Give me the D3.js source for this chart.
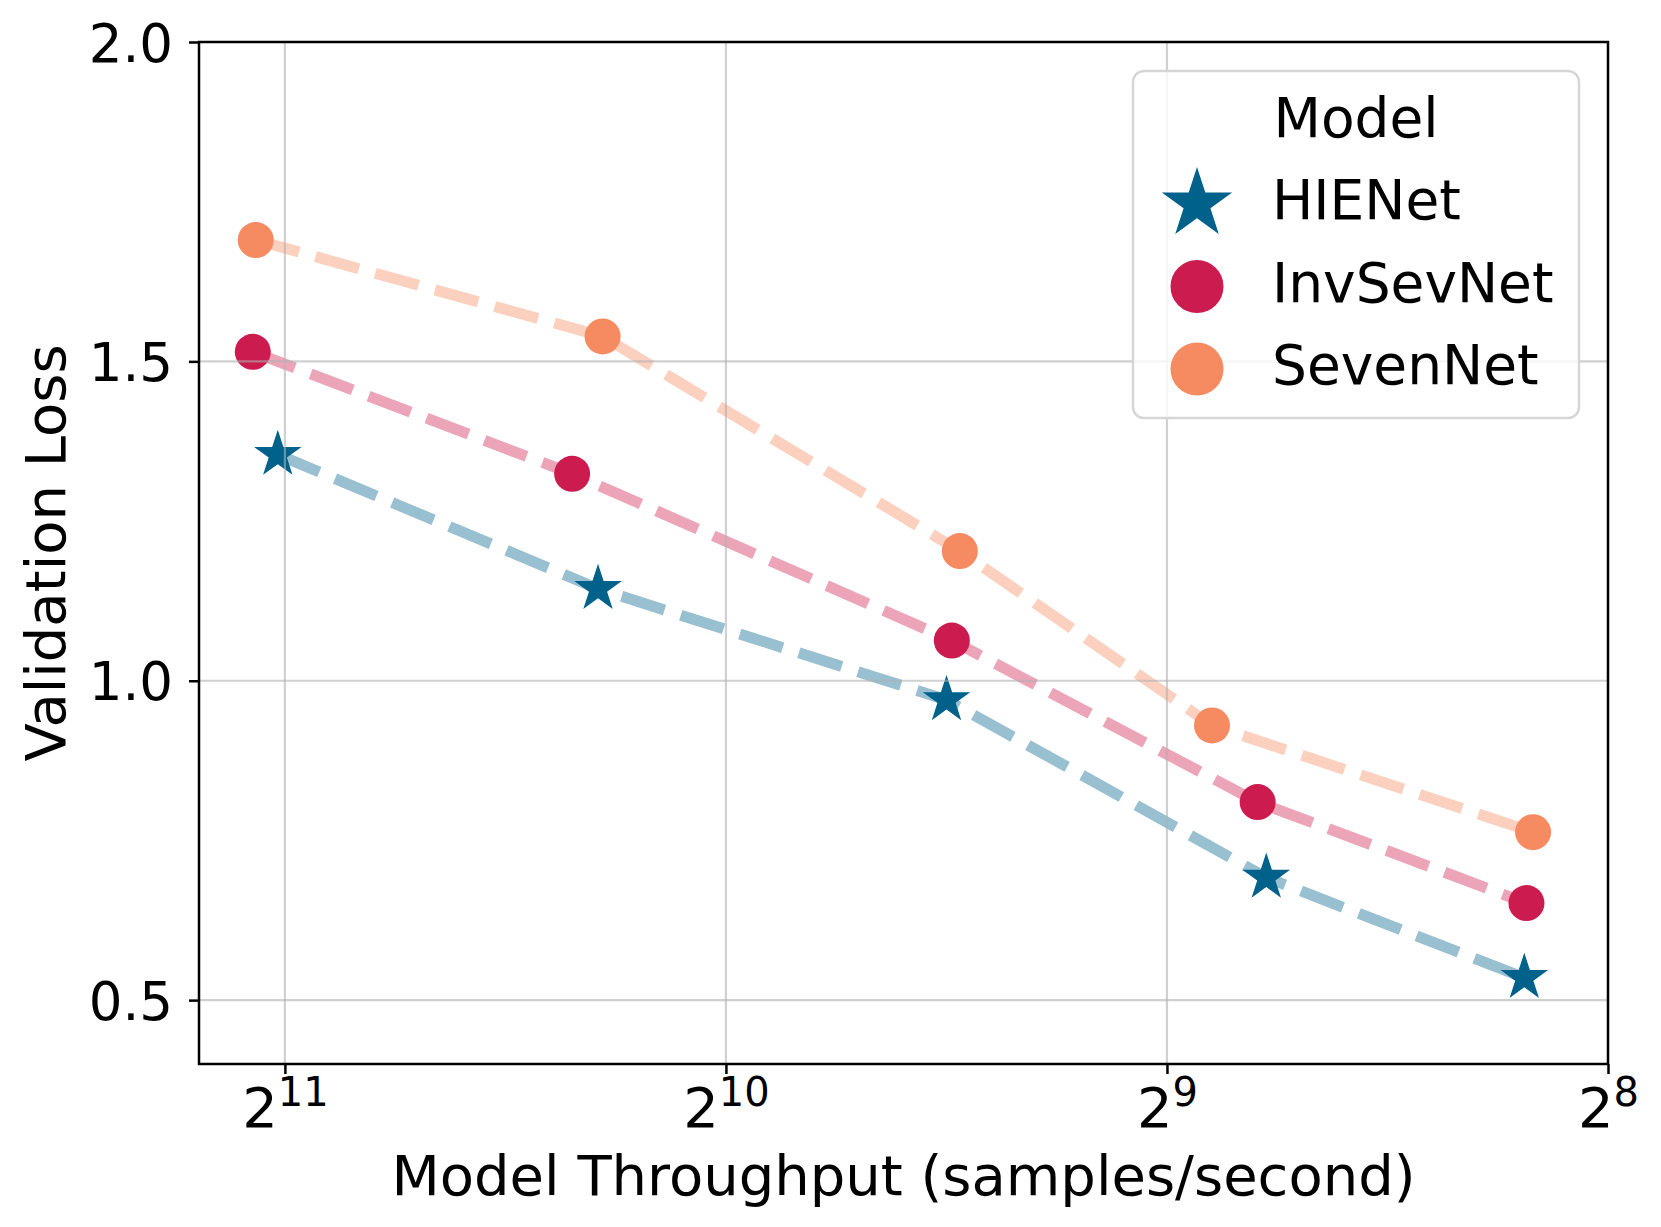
<!DOCTYPE html>
<html lang="en">
<head>
  <meta charset="UTF-8">
  <title>Validation loss vs model throughput</title>
  <script src="https://d3js.org/d3.v7.min.js"></script>
  <style>
    body {
      margin: 0;
      background: #fff;
      font-family: "DejaVu Sans", sans-serif;
    }
    svg { display: block; }
  </style>
</head>
<body>
  <svg id="chart" width="1661" height="1227"></svg>

  <script>
    // data
    const models = ["HIENet", "InvSevNet", "SevenNet"];
    const colors = ["#00628b", "#cc1b4e", "#f68a60"];
    const symbols = ["star", "circle", "circle"];

    const hienetX = [2071, 1252, 724, 438, 292];
    const hienetY = [1.354, 1.144, 0.970, 0.692, 0.535];
    const invsevX = [2154, 1304, 718, 444, 291];
    const invsevY = [1.515, 1.324, 1.063, 0.810, 0.652];
    const sevenX = [2144, 1243, 709, 477, 288];
    const sevenY = [1.690, 1.539, 1.203, 0.930, 0.763];

    const xTicks = [2048, 1024, 512, 256];
    const xTickExp = ["11", "10", "9", "8"];
    const yTicks = [0.5, 1.0, 1.5, 2.0];
    const yTickLabels = ["0.5", "1.0", "1.5", "2.0"];

    const xLabel = "Model Throughput (samples/second)";
    const yLabel = "Validation Loss";
    const legendTitle = "Model";

    const seriesX = [hienetX, invsevX, sevenX];
    const seriesY = [hienetY, invsevY, sevenY];

    const svg = d3.select("#chart"),
          margin = {top: 42, right: 53, bottom: 163, left: 199},
          width = 1661,
          height = 1227;

    const x = d3.scaleLog().base(2)
      .domain([2344, 256])
      .range([margin.left, width - margin.right]);
    const y = d3.scaleLinear()
      .domain([0.4, 2.0])
      .range([height - margin.bottom, margin.top]);

    svg.append("rect").attr("width", width).attr("height", height).attr("fill", "#fff");

    const series = models.map((m, i) => ({
      name: m,
      color: colors[i],
      symbol: symbols[i],
      points: seriesX[i].map((v, j) => ({x: v, y: seriesY[i][j]}))
    }));

    // dashed connecting lines, faded
    const line = d3.line().x(d => x(d.x)).y(d => y(d.y));
    svg.append("g").selectAll("path")
      .data(series)
      .join("path")
      .attr("d", d => line(d.points))
      .attr("fill", "none")
      .attr("stroke", d => d.color)
      .attr("stroke-opacity", 0.4)
      .attr("stroke-width", 11)
      .attr("stroke-dasharray", "45,17");

    // markers
    const star = d3.symbol().type(d3.symbolStar).size(702);
    const marks = svg.append("g");
    series.forEach(s => {
      const g = marks.append("g").attr("fill", s.color);
      if (s.symbol === "star") {
        g.selectAll("path").data(s.points).join("path")
          .attr("transform", d => `translate(${x(d.x)},${y(d.y)})`)
          .attr("d", star);
      } else {
        g.selectAll("circle").data(s.points).join("circle")
          .attr("cx", d => x(d.x))
          .attr("cy", d => y(d.y))
          .attr("r", 18);
      }
    });

    // grid drawn on top, semi-transparent
    const grid = svg.append("g")
      .attr("stroke", "#b0b0b0")
      .attr("stroke-opacity", 0.6)
      .attr("stroke-width", 2.2);
    grid.selectAll("line.gx").data(xTicks).join("line")
      .attr("x1", d => x(d)).attr("x2", d => x(d))
      .attr("y1", margin.top).attr("y2", height - margin.bottom);
    grid.selectAll("line.gy").data(yTicks).join("line")
      .attr("x1", margin.left).attr("x2", width - margin.right)
      .attr("y1", d => y(d)).attr("y2", d => y(d));

    // axes frame
    svg.append("rect")
      .attr("x", margin.left).attr("y", margin.top)
      .attr("width", width - margin.left - margin.right)
      .attr("height", height - margin.top - margin.bottom)
      .attr("fill", "none")
      .attr("stroke", "#000")
      .attr("stroke-width", 2.5);

    // y axis
    const yAxis = svg.append("g")
      .attr("transform", `translate(${margin.left},0)`)
      .call(d3.axisLeft(y).tickValues(yTicks).tickSize(10).tickPadding(16)
        .tickFormat((d, i) => yTickLabels[i]));
    yAxis.select(".domain").remove();
    yAxis.selectAll(".tick line").attr("stroke-width", 2.5);
    yAxis.selectAll(".tick text")
      .attr("font-family", "DejaVu Sans")
      .attr("font-size", 53)
      .attr("fill", "#000")
      .attr("dy", "0.36em");

    // x axis with power-of-two labels
    const xAxis = svg.append("g")
      .attr("transform", `translate(0,${height - margin.bottom})`)
      .call(d3.axisBottom(x).tickValues(xTicks).tickSize(10).tickFormat(""));
    xAxis.select(".domain").remove();
    xAxis.selectAll(".tick line").attr("stroke-width", 2.5);
    xAxis.selectAll(".tick").each(function(d, i) {
      const t = d3.select(this).append("text")
        .attr("y", 63)
        .attr("fill", "#000")
        .attr("text-anchor", "middle")
        .attr("font-family", "DejaVu Sans")
        .attr("font-size", 56);
      t.append("tspan").text("2");
      t.append("tspan").attr("font-size", 40).attr("dy", -21).text(xTickExp[i]);
    });

    // axis titles
    svg.append("text")
      .attr("x", (margin.left + width - margin.right) / 2)
      .attr("y", 1195)
      .attr("text-anchor", "middle")
      .attr("font-size", 56)
      .text(xLabel);

    svg.append("text")
      .attr("transform", `translate(65,${(margin.top + height - margin.bottom) / 2}) rotate(-90)`)
      .attr("text-anchor", "middle")
      .attr("font-size", 56)
      .text(yLabel);

    // legend
    const legend = svg.append("g");
    legend.append("rect")
      .attr("x", 1133).attr("y", 71)
      .attr("width", 446).attr("height", 347)
      .attr("rx", 11)
      .attr("fill", "#fff").attr("fill-opacity", 0.8)
      .attr("stroke", "#d6d6d6").attr("stroke-width", 2.5);
    legend.append("text")
      .attr("x", 1356).attr("y", 137)
      .attr("text-anchor", "middle")
      .attr("font-size", 55)
      .text(legendTitle);

    const bigStar = d3.symbol().type(d3.symbolStar).size(1537);
    series.forEach((s, i) => {
      const cy = 204 + i * 82.5;
      if (s.symbol === "star") {
        legend.append("path")
          .attr("transform", `translate(1197,${cy})`)
          .attr("d", bigStar)
          .attr("fill", s.color);
      } else {
        legend.append("circle")
          .attr("cx", 1197).attr("cy", cy).attr("r", 26.5)
          .attr("fill", s.color);
      }
      legend.append("text")
        .attr("x", 1272).attr("y", 219 + i * 82.5)
        .attr("font-size", 55)
        .text(s.name);
    });
  </script>
</body>
</html>
